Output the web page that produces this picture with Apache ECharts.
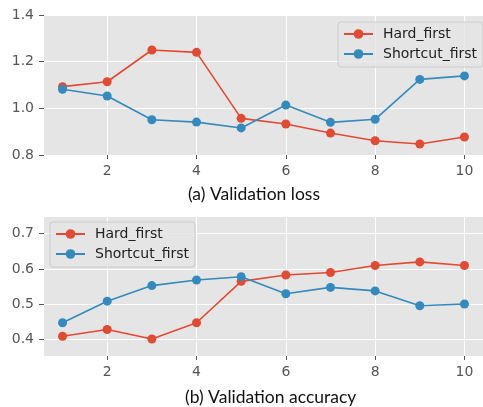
<!DOCTYPE html>
<html><head><meta charset="utf-8">
<script src="https://cdn.jsdelivr.net/npm/echarts@6/dist/echarts.min.js"></script>
<style>html,body{margin:0;padding:0;background:#fff}#c{width:483px;height:407px}</style>
</head><body><div id="c"></div>
<script>
const epochs = [1,2,3,4,5,6,7,8,9,10];
const lossHard = [1.093,1.114,1.250,1.240,0.957,0.933,0.894,0.861,0.847,0.877];
const lossShortcut = [1.082,1.053,0.951,0.941,0.916,1.014,0.940,0.953,1.124,1.139];
const accHard = [0.410,0.429,0.402,0.448,0.565,0.583,0.590,0.610,0.620,0.610];
const accShortcut = [0.448,0.509,0.553,0.569,0.578,0.530,0.548,0.538,0.496,0.501];
const xTicks = [2,4,6,8,10];
const lossTicks = [0.8,1.0,1.2,1.4];
const accTicks = [0.4,0.5,0.6,0.7];
const captions = ['(a) Validation loss','(b) Validation accuracy'];
const names = ['Hard_first','Shortcut_first'];
const RED = '#E24A33', BLUE = '#348ABD';

const pair = (xs, ys) => xs.map((x,i)=>[x, ys[i]]);
const tickFont = {color:'#555', fontSize:14, fontFamily:'DejaVu Sans'};

function xAxis(gi){
  return {type:'value', gridIndex:gi, min:0.585, max:10.415,
    axisLine:{show:false},
    axisTick:{show:true, customValues:xTicks, length:4, lineStyle:{color:'#555'}},
    axisLabel:Object.assign({customValues:xTicks, margin:9}, tickFont),
    splitLine:{show:true, lineStyle:{color:'#fff', width:1}}};
}
function yAxis(gi, min, max, ticks){
  return {type:'value', gridIndex:gi, min:min, max:max,
    axisLine:{show:false},
    axisTick:{show:true, customValues:ticks, length:5, lineStyle:{color:'#555'}},
    axisLabel:Object.assign({customValues:ticks, margin:10,
      formatter:v=>v.toFixed(1)}, tickFont),
    splitLine:{show:true, lineStyle:{color:'#fff', width:1}}};
}
function line(name, data, color, gi){
  return {type:'line', name:name, xAxisIndex:gi, yAxisIndex:gi, data:data,
    symbol:'circle', symbolSize:9, showSymbol:true,
    lineStyle:{color:color, width:1.6}, itemStyle:{color:color},
    emphasis:{disabled:true}, animation:false};
}
const legendBase = {orient:'vertical', itemWidth:29, itemHeight:12, itemGap:6,
  backgroundColor:'rgba(229,229,229,0.8)', borderColor:'#cccccc', borderWidth:1,
  borderRadius:3, padding:[5,6,6,5],
  textStyle:{color:'#222', fontSize:14, fontFamily:'DejaVu Sans', padding:[0,0,0,5]}, data:names};

const capStyle = {fontFamily:'Lato', fontWeight:'normal', fontSize:17.5, color:'#111'};
const chart = echarts.init(document.getElementById('c'), null, {renderer:'canvas'});
chart.setOption({
  animation:false,
  backgroundColor:'#fff',
  grid:[
    {left:44, top:15, width:442, height:140, show:true, backgroundColor:'#E5E5E5', borderWidth:0},
    {left:44, top:217, width:442, height:139, show:true, backgroundColor:'#E5E5E5', borderWidth:0}
  ],
  xAxis:[xAxis(0), xAxis(1)],
  yAxis:[yAxis(0,0.8,1.4,lossTicks), yAxis(1,0.354,0.747,accTicks)],
  title:[
    {text:captions[0], left:188, top:185, padding:0, textStyle:capStyle},
    {text:captions[1], left:185, top:388, padding:0, textStyle:capStyle}
  ],
  legend:[
    Object.assign({}, legendBase, {left:338, top:22}),
    Object.assign({}, legendBase, {left:50, top:222})
  ],
  series:[
    line(names[0], pair(epochs, lossHard), RED, 0),
    line(names[1], pair(epochs, lossShortcut), BLUE, 0),
    line(names[0], pair(epochs, accHard), RED, 1),
    line(names[1], pair(epochs, accShortcut), BLUE, 1)
  ]
});
</script></body></html>
